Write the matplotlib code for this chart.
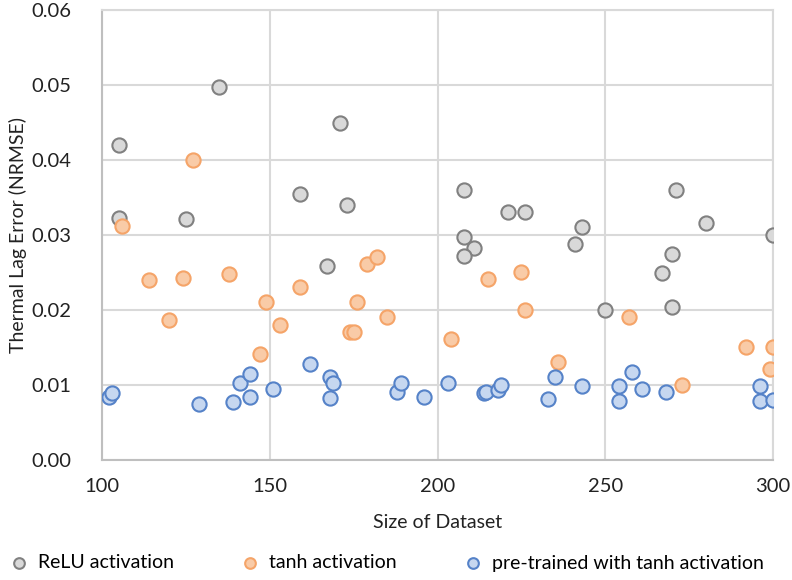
import matplotlib
matplotlib.use("Agg")
import matplotlib.pyplot as plt

# Thermal lag error vs. dataset size for three network setups
relu_size = [105, 105, 125, 135, 159, 171, 173, 167, 208, 208, 211, 208,
             221, 226, 243, 241, 250, 271, 270, 267, 270, 280, 300]
relu_err = [0.0420, 0.0323, 0.0321, 0.0497, 0.0354, 0.0449, 0.0340, 0.0258,
            0.0360, 0.0297, 0.0283, 0.0272, 0.0330, 0.0331, 0.0310, 0.0288,
            0.0200, 0.0360, 0.0274, 0.0249, 0.0204, 0.0316, 0.0300]

tanh_size = [106, 127, 114, 124, 138, 159, 149, 176, 179, 182, 120, 153,
             174, 175, 185, 147, 204, 215, 225, 226, 236, 257, 273, 292,
             300, 299]
tanh_err = [0.0312, 0.0400, 0.0240, 0.0242, 0.0248, 0.0230, 0.0210, 0.0210,
            0.0261, 0.0270, 0.0187, 0.0180, 0.0171, 0.0171, 0.0190, 0.0141,
            0.0161, 0.0241, 0.0251, 0.0200, 0.0131, 0.0190, 0.0100, 0.0151,
            0.0151, 0.0121]

pre_size = [102, 103, 129, 139, 141, 144, 144, 151, 162, 168, 169, 168,
            188, 189, 196, 203, 214, 214.5, 218, 219, 235, 233, 243, 254,
            254, 258, 261, 268, 296, 296, 300]
pre_err = [0.0084, 0.0089, 0.0075, 0.0077, 0.0102, 0.0114, 0.0084, 0.0095,
           0.0128, 0.0111, 0.0102, 0.0083, 0.0091, 0.0102, 0.0084, 0.0102,
           0.0089, 0.0091, 0.0093, 0.0100, 0.0110, 0.0081, 0.0099, 0.0099,
           0.0079, 0.0117, 0.0095, 0.0090, 0.0099, 0.0079, 0.0080]

plt.rcParams['font.family'] = ['Lato', 'DejaVu Sans']

fig = plt.figure(figsize=(7.92, 5.8), dpi=100)
ax = fig.add_axes([0.1288, 0.2069, 0.8472, 0.7759])

grid_col = '#d9d9d9'
ms = 105
lw = 1.5
ax.scatter(relu_size, relu_err, s=ms, facecolor='#d9d9d9', edgecolor='#808080',
           linewidth=lw, label='ReLU activation', zorder=3)
ax.scatter(tanh_size, tanh_err, s=ms, facecolor='#f9cba7', edgecolor='#f5a468',
           linewidth=lw, label='tanh activation', zorder=3)
ax.scatter(pre_size, pre_err, s=ms, facecolor='#c6d7f0', edgecolor='#5582c8',
           linewidth=lw, label='pre-trained with tanh activation', zorder=3)

ax.set_xlim(100, 300)
ax.set_ylim(0, 0.06)
ax.set_xticks([100, 150, 200, 250, 300])
ax.set_yticks([0, 0.01, 0.02, 0.03, 0.04, 0.05, 0.06])
ax.set_yticklabels(['0.00', '0.01', '0.02', '0.03', '0.04', '0.05', '0.06'])
ax.grid(True, color=grid_col, linewidth=1.5)
ax.set_axisbelow(True)
for side in ['top', 'right']:
    ax.spines[side].set_color(grid_col)
    ax.spines[side].set_linewidth(1.5)
for side in ['left', 'bottom']:
    ax.spines[side].set_color('#bfbfbf')
    ax.spines[side].set_linewidth(1.5)
ax.tick_params(length=0, labelsize=14.5, colors='#222222')
ax.tick_params(axis='x', pad=13)
ax.tick_params(axis='y', pad=22)

ax.set_xlabel('Size of Dataset', fontsize=14, color='#222222')
ax.set_ylabel('Thermal Lag Error (NRMSE)', fontsize=14, color='#222222')
ax.xaxis.set_label_coords(0.5, -62 / 449, transform=ax.transAxes)
ax.yaxis.set_label_coords(-84 / 672, 0.5, transform=ax.transAxes)
ax.xaxis.label.set_va('center')
ax.yaxis.label.set_va('center')

fig.legend(loc='center', bbox_to_anchor=(0.482, 1 - 563 / 580), ncol=3,
           frameon=False, fontsize=14, handletextpad=0.0, columnspacing=2.9,
           markerscale=0.75, scatterpoints=1)

fig.savefig('out.png', dpi=100)
